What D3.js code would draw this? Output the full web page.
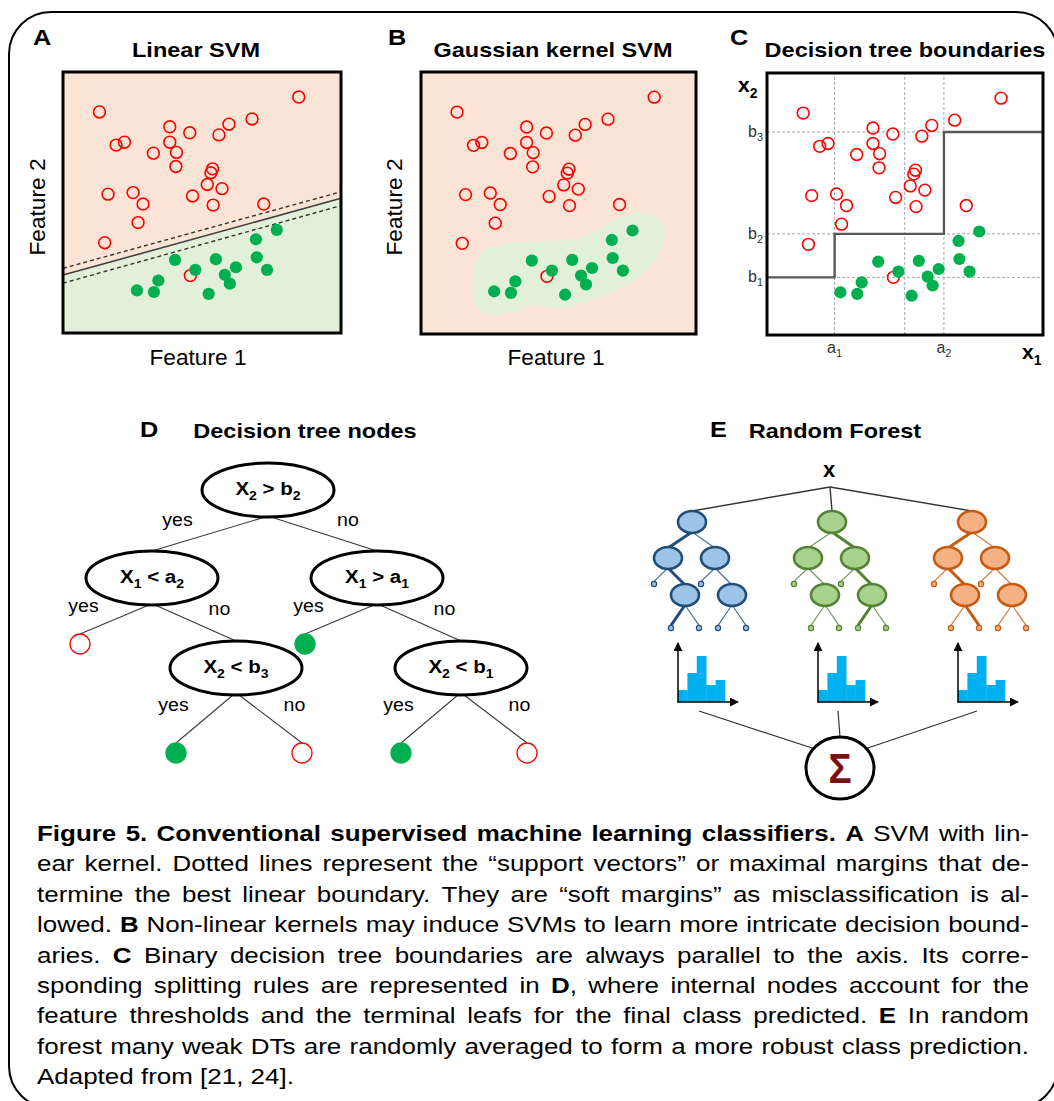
<!DOCTYPE html>
<html>
<head>
<meta charset="utf-8">
<script src="https://cdn.jsdelivr.net/npm/d3@7"></script>
<style>
  body { margin: 0; background: #fff; }
  svg { display: block; }
  text { font-family: "Liberation Sans", Arial, Helvetica, sans-serif; }
</style>
</head>
<body>
<script>
// ---- data (feature space is 0..100 on both axes, y up) ----
const redX   = [13.1, 84.8, 68.0, 59.7, 56.1, 45.6, 38.4, 38.4, 40.8, 40.6, 19.1, 22.1, 32.5,
                53.8, 53.2, 51.9, 57.2, 46.6, 54.0, 16.2, 25.2, 28.8, 27.0, 15.0, 72.2, 45.8];
const redY   = [84.7, 90.4, 82.0, 80.0, 75.9, 76.7, 79.0, 73.1, 69.2, 63.8, 72.0, 73.1, 68.9,
                62.9, 61.4, 56.9, 55.3, 52.5, 49.0, 53.2, 53.8, 49.4, 42.3, 34.6, 49.4, 22.0];
const greenX = [26.6, 32.7, 34.3, 40.3, 47.6, 55.0, 58.2, 60.0, 62.2, 52.4, 69.4, 69.7, 73.4, 76.9];
const greenY = [16.3, 15.7, 20.1, 28.0, 24.2, 28.3, 22.3, 18.9, 25.2, 15.0, 35.9, 29.0, 24.2, 39.5];

// linear SVM: feature-2 value of each line at feature-1 = 0 and 100
const svmBoundary   = [22.2, 51.6];
const svmMarginHigh = [24.8, 54.1];
const svmMarginLow  = [19.1, 48.8];

// gaussian kernel: outline of the green decision region
const kernelX = [19.1, 21.5, 30.0, 42.1, 56.7, 65.1, 72.4, 80.9, 87.5, 88.4, 84.5, 76.0, 63.9, 51.8, 40.9, 32.4, 22.8, 19.1];
const kernelY = [23.2, 30.8, 34.4, 35.3, 36.5, 40.4, 44.8, 46.3, 43.5, 35.9, 27.0, 19.4, 13.7,  9.9, 10.7,  8.0,  8.0, 13.1];

// decision tree thresholds
const splitA = [24.5, 64.1];          // a1, a2 on x1
const splitB = [22.0, 38.6, 77.5];    // b1, b2, b3 on x2
const gridX  = [24.5, 49.9, 64.1];
const gridY  = [22.0, 38.6, 77.5];

// decision tree nodes (panel D)
const dtTree = {f: 2, op: ">", t: "b", ti: 2, children: [
  {f: 1, op: "<", t: "a", ti: 2, children: [
    {leaf: "red"},
    {f: 2, op: "<", t: "b", ti: 3, children: [{leaf: "green"}, {leaf: "red"}]}
  ]},
  {f: 1, op: ">", t: "a", ti: 1, children: [
    {leaf: "green"},
    {f: 2, op: "<", t: "b", ti: 1, children: [{leaf: "green"}, {leaf: "red"}]}
  ]}
]};
const branchLabels = ["yes", "no"];

// random forest (panel E)
const forestTrees = ["tree 1", "tree 2", "tree 3"];
const forestPaths = [[0, 1, 0], [1, 1, 0], [0, 1, 1]];   // highlighted decision path per tree
const histCounts  = [12, 29, 46, 17, 22];
const rfShape = {children: [
  {children: [{}, {children: [{}, {}]}]},
  {children: [{}, {children: [{}, {}]}]}
]};

const captionLines = [
  [["Figure 5. Conventional supervised machine learning classifiers. A", true], [" SVM with lin-", false]],
  [["ear kernel. Dotted lines represent the \u201csupport vectors\u201d or maximal margins that de-", false]],
  [["termine the best linear boundary. They are \u201csoft margins\u201d as misclassification is al-", false]],
  [["lowed. ", false], ["B", true], [" Non-linear kernels may induce SVMs to learn more intricate decision bound-", false]],
  [["aries. ", false], ["C", true], [" Binary decision tree boundaries are always parallel to the axis. Its corre-", false]],
  [["sponding splitting rules are represented in ", false], ["D", true], [", where internal nodes account for the", false]],
  [["feature thresholds and the terminal leafs for the final class predicted. ", false], ["E", true], [" In random", false]],
  [["forest many weak DTs are randomly averaged to form a more robust class prediction.", false]],
  [["Adapted from [21, 24].", false]]
];

// ---- styles ----
const RED = "#FF0000", GREEN = "#00B050";
const PEACH = "#FBE4D6", MINT = "#E2F0D9";
const treeStyles = [
  {fill: "#9DC3E6", stroke: "#1F4E79"},
  {fill: "#A9D18E", stroke: "#548235"},
  {fill: "#F4B183", stroke: "#C55A11"}
];

const svg = d3.select("body").append("svg").attr("width", 1054).attr("height", 1101);

svg.append("rect")
  .attr("x", 9).attr("y", 12).attr("width", 1049).attr("height", 1096)
  .attr("rx", 42).attr("fill", "none").attr("stroke", "#000").attr("stroke-width", 2);

function rich(g, x, y, parts, o) {
  const t = g.append("text")
    .attr("transform", `translate(${x},${y}) scale(${o.sx || 1},1)`)
    .attr("text-anchor", o.anchor || "start")
    .attr("font-size", o.size)
    .attr("font-weight", o.bold ? "bold" : "normal")
    .attr("fill", o.fill || "#000");
  const subSize = Math.round(o.size * 0.68), shift = Math.round(o.size * 0.28);
  let down = false;
  parts.forEach(p => {
    const ts = t.append("tspan").text(p[0]);
    if (p[1]) {
      ts.attr("font-size", subSize);
      if (!down) { ts.attr("dy", shift); down = true; }
    } else if (down) { ts.attr("dy", -shift); down = false; }
  });
  return t;
}
function label(g, x, y, s, o) { return rich(g, x, y, [[s, false]], o); }

function drawPoints(g, x, y) {
  g.append("g").selectAll("circle").data(redX).join("circle")
    .attr("cx", (d) => x(d)).attr("cy", (d, i) => y(redY[i])).attr("r", 5.9)
    .attr("fill", "none").attr("stroke", RED).attr("stroke-width", 1.6);
  g.append("g").selectAll("circle").data(greenX).join("circle")
    .attr("cx", (d) => x(d)).attr("cy", (d, i) => y(greenY[i])).attr("r", 6.1)
    .attr("fill", GREEN);
}
function frame(g, x, y) {
  g.append("rect")
    .attr("x", x(0)).attr("y", y(100))
    .attr("width", x(100) - x(0)).attr("height", y(0) - y(100))
    .attr("fill", "none").attr("stroke", "#000").attr("stroke-width", 3);
}

const titleOpt = {size: 21, bold: true, sx: 1.12, anchor: "middle"};
const letterOpt = {size: 22, bold: true, sx: 1.15};
const featOpt = {size: 22, sx: 1.03, anchor: "middle"};

// ---- A: linear SVM ----
{
  const g = svg.append("g");
  const x = d3.scaleLinear().domain([0, 100]).range([63, 341]);
  const y = d3.scaleLinear().domain([0, 100]).range([333, 72]);
  const line = d3.line().x(d => x(d[0])).y(d => y(d[1]));
  g.append("path").attr("d", line([[0, 100], [100, 100], [100, svmBoundary[1]], [0, svmBoundary[0]]]) + "Z").attr("fill", PEACH);
  g.append("path").attr("d", line([[0, svmBoundary[0]], [100, svmBoundary[1]], [100, 0], [0, 0]]) + "Z").attr("fill", MINT);
  [svmMarginHigh, svmMarginLow].forEach(m => {
    g.append("path").attr("d", line([[0, m[0]], [100, m[1]]]))
      .attr("stroke", "#333").attr("stroke-width", 1.4).attr("stroke-dasharray", "4,3").attr("fill", "none");
  });
  g.append("path").attr("d", line([[0, svmBoundary[0]], [100, svmBoundary[1]]]))
    .attr("stroke", "#404040").attr("stroke-width", 1.6).attr("fill", "none");
  drawPoints(g, x, y);
  frame(g, x, y);
  label(g, 33, 45, "A", letterOpt);
  label(g, 196, 57, "Linear SVM", titleOpt);
  label(g, 198, 365, "Feature 1", featOpt);
  label(g, 0, 0, "Feature 2", featOpt).attr("transform", "translate(45,207) rotate(-90) scale(1.03,1)");
}

// ---- B: gaussian kernel SVM ----
{
  const g = svg.append("g");
  const x = d3.scaleLinear().domain([0, 100]).range([421, 696]);
  const y = d3.scaleLinear().domain([0, 100]).range([334, 72]);
  g.append("rect").attr("x", x(0)).attr("y", y(100))
    .attr("width", x(100) - x(0)).attr("height", y(0) - y(100)).attr("fill", PEACH);
  const blob = d3.line().x(d => x(d)).y((d, i) => y(kernelY[i])).curve(d3.curveCatmullRomClosed.alpha(0.5));
  g.append("path").attr("d", blob(kernelX)).attr("fill", MINT);
  drawPoints(g, x, y);
  frame(g, x, y);
  label(g, 388, 45, "B", letterOpt);
  label(g, 553, 57, "Gaussian kernel SVM", titleOpt);
  label(g, 556, 365, "Feature 1", featOpt);
  label(g, 0, 0, "Feature 2", featOpt).attr("transform", "translate(402,207) rotate(-90) scale(1.03,1)");
}

// ---- C: decision tree boundaries ----
{
  const g = svg.append("g");
  const x = d3.scaleLinear().domain([0, 100]).range([767, 1043]);
  const y = d3.scaleLinear().domain([0, 100]).range([335, 73]);
  g.selectAll(".gx").data(gridX).join("line")
    .attr("x1", d => x(d)).attr("x2", d => x(d)).attr("y1", y(0)).attr("y2", y(100))
    .attr("stroke", "#A6A6A6").attr("stroke-width", 1).attr("stroke-dasharray", "3,2");
  g.selectAll(".gy").data(gridY).join("line")
    .attr("y1", d => y(d)).attr("y2", d => y(d)).attr("x1", x(0)).attr("x2", x(100))
    .attr("stroke", "#A6A6A6").attr("stroke-width", 1).attr("stroke-dasharray", "3,2");
  const steps = [[0, splitB[0]], [splitA[0], splitB[0]], [splitA[0], splitB[1]],
                 [splitA[1], splitB[1]], [splitA[1], splitB[2]], [100, splitB[2]]];
  g.append("path").attr("d", d3.line().x(d => x(d[0])).y(d => y(d[1]))(steps))
    .attr("fill", "none").attr("stroke", "#595959").attr("stroke-width", 2.4);
  drawPoints(g, x, y);
  frame(g, x, y);
  splitA.forEach((v, i) => rich(g, x(v), 353, [["a"], [String(i + 1), true]], {size: 16, anchor: "middle", fill: "#333"}));
  splitB.forEach((v, i) => rich(g, 763, y(v) + 5, [["b"], [String(i + 1), true]], {size: 16, anchor: "end", fill: "#333"}));
  rich(g, 738, 92, [["x"], ["2", true]], {size: 21, bold: true});
  rich(g, 1022, 359, [["x"], ["1", true]], {size: 21, bold: true});
  label(g, 730, 45, "C", letterOpt);
  label(g, 905, 57, "Decision tree boundaries", titleOpt);
}

// ---- D: decision tree nodes ----
{
  const g = svg.append("g");
  const root = d3.hierarchy(dtTree);
  const spread = [null, [-116, 109], [-72, 84], [-60, 66]];
  const nodeY = [490, 578, 668];
  const leafY = [null, null, 644, 753];
  const RX = 66, RY = 27, LR = 10;
  root.each(n => {
    if (!n.parent) { n.x = 268; n.y = nodeY[0]; return; }
    const idx = n.parent.children.indexOf(n);
    n.x = n.parent.x + spread[n.depth][idx];
    n.y = n.data.leaf ? leafY[n.depth] : nodeY[n.depth];
  });
  root.links().forEach(l => {
    const idx = l.source.children.indexOf(l.target);
    const x1 = l.source.x + (idx ? 3 : -3), y1 = l.source.y + RY;
    const x2 = l.target.x, y2 = l.target.y - (l.target.data.leaf ? LR : RY);
    g.append("line").attr("x1", x1).attr("y1", y1).attr("x2", x2).attr("y2", y2)
      .attr("stroke", "#3a3a3a").attr("stroke-width", 1.1);
    const mx = (x1 + x2) / 2, my = (y1 + y2) / 2;
    label(g, mx + (idx ? 24 : -31), my - 8, branchLabels[idx], {size: 19, anchor: "middle", sx: 1.03});
  });
  root.descendants().forEach(n => {
    if (n.data.leaf) {
      const red = n.data.leaf === "red";
      g.append("circle").attr("cx", n.x).attr("cy", n.y).attr("r", LR)
        .attr("fill", red ? "#fff" : GREEN).attr("stroke", red ? RED : GREEN).attr("stroke-width", 1.3);
    } else {
      g.append("ellipse").attr("cx", n.x).attr("cy", n.y).attr("rx", RX).attr("ry", RY)
        .attr("fill", "#fff").attr("stroke", "#000").attr("stroke-width", 3);
      const d = n.data;
      rich(g, n.x, n.y + 5, [["X"], [String(d.f), true], [` ${d.op} ${d.t}`], [String(d.ti), true]],
        {size: 19, bold: true, anchor: "middle", sx: 1.08});
    }
  });
  label(g, 140, 437, "D", letterOpt);
  label(g, 305, 438, "Decision tree nodes", titleOpt);
}

// ---- E: random forest ----
{
  const g = svg.append("g");
  const tx = d3.scalePoint().domain(forestTrees).range([692, 972]);
  const xTop = [830, 487];
  const sigma = {x: 840, y: 768, rx: 34, ry: 31};
  const spread = [null, [-24, 23], [-14, 17], [-14, 14]];
  const nodeY = [522, 558, 595];
  const leafY = [null, null, 584, 628];
  const NRX = 14, NRY = 11, LR = 2.6;

  label(g, 829, 477, "x", {size: 22, bold: true, anchor: "middle"});

  const defs = svg.append("defs");
  defs.append("marker").attr("id", "arrow").attr("viewBox", "0 0 10 10")
    .attr("refX", 9).attr("refY", 5).attr("markerWidth", 9).attr("markerHeight", 9)
    .attr("markerUnits", "userSpaceOnUse").attr("orient", "auto")
    .append("path").attr("d", "M0,0L10,5L0,10Z").attr("fill", "#000");

  forestTrees.forEach((name, ti) => {
    const st = treeStyles[ti], path = forestPaths[ti];
    const cx = tx(name);
    const root = d3.hierarchy(rfShape);
    root.each(n => {
      if (!n.parent) { n.x = cx; n.y = nodeY[0]; n.idx = []; return; }
      const k = n.parent.children.indexOf(n);
      n.idx = n.parent.idx.concat([k]);
      n.x = n.parent.x + spread[n.depth][k];
      n.y = n.children ? nodeY[n.depth] : leafY[n.depth];
    });
    // link from x to this tree
    g.append("line").attr("x1", xTop[0]).attr("y1", xTop[1]).attr("x2", cx).attr("y2", nodeY[0] - NRY)
      .attr("stroke", "#333").attr("stroke-width", 1.4);
    root.links().forEach(l => {
      const onPath = l.target.idx.every((v, i) => v === path[i]);
      g.append("line")
        .attr("x1", l.source.x).attr("y1", l.source.y + NRY - 1)
        .attr("x2", l.target.x).attr("y2", l.target.y - (l.target.children ? NRY - 1 : LR))
        .attr("stroke", st.stroke).attr("stroke-width", onPath ? 3 : 1.2)
        .attr("stroke-opacity", onPath ? 1 : 0.8);
    });
    root.descendants().forEach(n => {
      if (n.children) {
        g.append("ellipse").attr("cx", n.x).attr("cy", n.y).attr("rx", NRX).attr("ry", NRY)
          .attr("fill", st.fill).attr("stroke", st.stroke).attr("stroke-width", 2.6);
      } else {
        g.append("circle").attr("cx", n.x).attr("cy", n.y).attr("r", LR)
          .attr("fill", st.fill).attr("stroke", st.stroke).attr("stroke-width", 1.2);
      }
    });

    // histogram of class votes
    const ox = cx - 14, oy = 702;
    const hx = d3.scaleBand().domain(d3.range(histCounts.length)).range([ox, ox + 47]).padding(0);
    const hy = d3.scaleLinear().domain([0, 60]).range([oy, oy - 60]);
    g.append("g").selectAll("rect").data(histCounts).join("rect")
      .attr("x", (d, i) => hx(i)).attr("width", hx.bandwidth() + 0.3)
      .attr("y", d => hy(d)).attr("height", d => oy - hy(d))
      .attr("fill", "#00B0F0");
    g.append("line").attr("x1", ox).attr("y1", oy + 0.5).attr("x2", ox).attr("y2", hy(59))
      .attr("stroke", "#000").attr("stroke-width", 1.5).attr("marker-end", "url(#arrow)");
    g.append("line").attr("x1", ox - 0.5).attr("y1", oy).attr("x2", ox + 60).attr("y2", oy)
      .attr("stroke", "#000").attr("stroke-width", 1.5).attr("marker-end", "url(#arrow)");

    // link to the sum
    const a = (-90 + (ti - 1) * 51) * Math.PI / 180;
    g.append("line").attr("x1", cx + 6 + (ti - 1) * -1).attr("y1", 711)
      .attr("x2", sigma.x + sigma.rx * Math.cos(a)).attr("y2", sigma.y + sigma.ry * Math.sin(a))
      .attr("stroke", "#333").attr("stroke-width", 1.2);
  });

  g.append("ellipse").attr("cx", sigma.x).attr("cy", sigma.y).attr("rx", sigma.rx).attr("ry", sigma.ry)
    .attr("fill", "#fff").attr("stroke", "#000").attr("stroke-width", 3);
  label(g, sigma.x, sigma.y + 15, "\u03a3", {size: 42, bold: true, anchor: "middle", fill: "#7A1010", sx: 0.92});
  label(g, 710, 437, "E", letterOpt);
  label(g, 835, 438, "Random Forest", titleOpt);
}

// ---- caption (justified) ----
{
  const size = 22, sx = 1.18, left = 37, right = 1029, top = 841, lead = 30.4;
  const widthU = (right - left) / sx;
  const meas = svg.append("text").attr("font-size", size).attr("visibility", "hidden");
  const wid = (s, b) => { meas.attr("font-weight", b ? "bold" : "normal").text(s); return meas.node().getComputedTextLength(); };
  function tokenize(segs) {
    const words = []; let cur = null;
    segs.forEach(([s, b]) => {
      s.split(" ").forEach((p, i) => {
        if (i > 0) cur = null;
        if (p === "") return;
        if (!cur) { cur = []; words.push(cur); }
        cur.push([p, b]);
      });
    });
    return words;
  }
  const g = svg.append("g");
  captionLines.forEach((segs, li) => {
    const words = tokenize(segs);
    const ws = words.map(w => d3.sum(w, r => wid(r[0], r[1])));
    const last = li === captionLines.length - 1;
    const gap = last ? size * 0.278 : Math.max(size * 0.15, (widthU - d3.sum(ws)) / (words.length - 1));
    const t = g.append("text")
      .attr("transform", `translate(${left},${top + li * lead}) scale(${sx},1)`)
      .attr("font-size", size).attr("fill", "#000");
    let xpos = 0;
    words.forEach((w, wi) => {
      w.forEach((r, ri) => {
        const ts = t.append("tspan").text(r[0]).attr("font-weight", r[1] ? "bold" : "normal");
        if (ri === 0) ts.attr("x", xpos.toFixed(2));
      });
      xpos += ws[wi] + gap;
    });
  });
  meas.remove();
}
</script>
</body>
</html>
